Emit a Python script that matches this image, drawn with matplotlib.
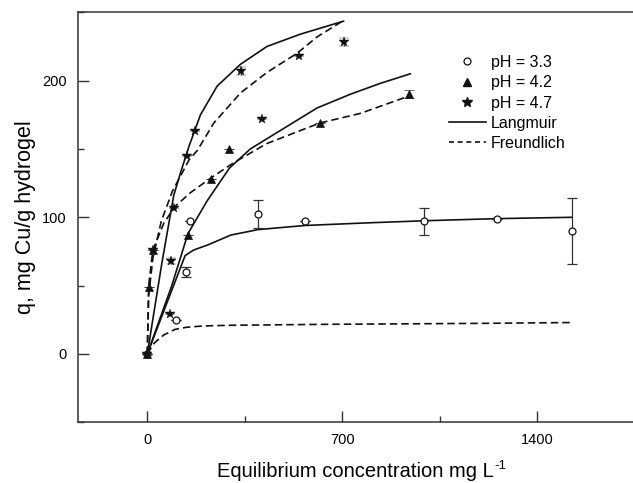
import matplotlib
matplotlib.use("Agg")
import matplotlib.pyplot as plt
from matplotlib.lines import Line2D
from matplotlib.ticker import MultipleLocator

plt.rcParams['font.family'] = ['Liberation Sans', 'DejaVu Sans']

# ---- data ----
c33 = [0, 104, 140, 152, 398, 565, 995, 1256, 1525]
q33 = [0, 25, 60, 97, 102.5, 97, 97, 98.5, 90]
e33 = [0, 0, 4, 0, 10.5, 0, 10, 0, 24]

c42 = [0, 5, 20, 146, 230, 295, 620, 942]
q42 = [0, 49, 76, 87, 128, 150, 169, 190]
e42 = [0, 0, 0, 0, 0, 0, 0, 3]

c47 = [0, 20, 80, 86, 95, 143, 170, 336, 412, 544, 705]
q47 = [0, 76, 29, 68, 107, 145, 163, 207, 172, 218, 228]
e47 = [0, 0, 0, 2.5, 0, 0, 0, 3, 0, 0, 3]

# fitted model curves (read as points)
lang33_c = [0, 136, 166, 220, 300, 398, 565, 800, 1000, 1250, 1525]
lang33_q = [0, 72, 76, 80, 87, 91, 94, 96, 97.5, 99, 100]
freu33_c = [0, 25, 60, 100, 140, 200, 300, 650, 1200, 1525]
freu33_q = [0, 8, 14, 18, 19.5, 20.5, 21, 21.7, 22.4, 23]

lang42_c = [0, 88, 146, 215, 295, 370, 490, 610, 729, 837, 945]
lang42_q = [0, 50, 88, 112, 136, 150, 165, 180, 190, 198, 205]
freu42_c = [0, 5, 20, 60, 100, 155, 230, 311, 430, 620, 765, 930]
freu42_q = [0, 50, 76, 96, 108, 118, 129, 140, 154, 169, 176, 188]

lang47_c = [0, 52, 95, 120, 150, 191, 251, 335, 430, 550, 705]
lang47_q = [0, 66, 116, 133, 152, 175, 196, 212, 225, 234, 243.5]
freu47_c = [0, 5, 20, 50, 90, 150, 180, 239, 335, 430, 538, 610, 705]
freu47_q = [0, 43, 70, 97, 119, 142, 149, 169, 191, 206, 220, 232, 244]

xticks = [0, 700, 1400]
yticks = [0, 100, 200]

# ---- figure ----
W, H = 633, 483
fig = plt.figure(figsize=(W / 100, H / 100), dpi=100)
left, bottom, top = 77.7 / W, (H - 422.3) / H, (H - 12.3) / H
ax = fig.add_axes([left, bottom, 1.0 - left, top - bottom])

lc = '#111111'
dash = (0, (4.5, 2.4))
for cx, qy in [(lang33_c, lang33_q), (lang42_c, lang42_q), (lang47_c, lang47_q)]:
    ax.plot(cx, qy, color=lc, lw=1.2, ls='-', zorder=2)
for cx, qy in [(freu33_c, freu33_q), (freu42_c, freu42_q), (freu47_c, freu47_q)]:
    ax.plot(cx, qy, color=lc, lw=1.2, ls=dash, zorder=2)

ekw = dict(ecolor='#333333', elinewidth=0.9, capsize=3.5, capthick=0.9, ls='none', zorder=3)
ax.errorbar(c33, q33, yerr=e33, fmt='o', ms=5, mfc='white', mec='#111111', mew=0.9, **ekw)
ax.errorbar(c42, q42, yerr=e42, fmt='^', ms=6, mfc='#111111', mec='#111111', mew=0.5, **ekw)
ax.errorbar(c47, q47, yerr=e47, fmt='*', ms=7, mfc='#111111', mec='#111111', mew=0.3, **ekw)

ax.set_xlim(-250, 1745)
ax.set_ylim(-50, 250)
ax.set_xticks(xticks)
ax.set_yticks(yticks)
ax.xaxis.set_minor_locator(MultipleLocator(350))
ax.yaxis.set_minor_locator(MultipleLocator(50))
ax.tick_params(which='major', direction='in', length=8, width=1.0, color='#333333',
               labelsize=10.5, pad=8, top=False, right=False)
ax.tick_params(which='minor', direction='in', length=4.5, width=1.0, color='#333333',
               top=False, right=False)
for s in ['left', 'bottom', 'top']:
    ax.spines[s].set_linewidth(1.1)
    ax.spines[s].set_color('#333333')
ax.spines['right'].set_visible(False)

xl = ax.set_xlabel('Equilibrium concentration mg L', fontsize=14.5, labelpad=10.5)
ax.set_ylabel('q, mg Cu/g hydrogel', fontsize=15.5, labelpad=4.5)

handles = [
    Line2D([], [], ls='none', marker='o', ms=5, mfc='white', mec='#111111', mew=0.9),
    Line2D([], [], ls='none', marker='^', ms=6, mfc='#111111', mec='#111111'),
    Line2D([], [], ls='none', marker='*', ms=7, mfc='#111111', mec='#111111'),
    Line2D([], [], color=lc, lw=1.2, ls='-'),
    Line2D([], [], color=lc, lw=1.2, ls=(0, (3, 2.2))),
]
labels = ['pH = 3.3', 'pH = 4.2', 'pH = 4.7', 'Langmuir', 'Freundlich']
fig.legend(handles, labels, loc='upper left', bbox_to_anchor=(449 / W, 1 - 55 / H),
           frameon=False, fontsize=11.5, handlelength=2.3, handletextpad=0.3,
           labelspacing=0.33, borderpad=0, borderaxespad=0)

# superscript "-1" after the x label (plain hyphen, as in the original)
fig.canvas.draw()
bb = xl.get_window_extent(fig.canvas.get_renderer())
fig.text((bb.x1 + 1) / W, (bb.y1 + 2) / H, '-1', fontsize=9.5, ha='left', va='top')

fig.savefig('out.png', dpi=100)
